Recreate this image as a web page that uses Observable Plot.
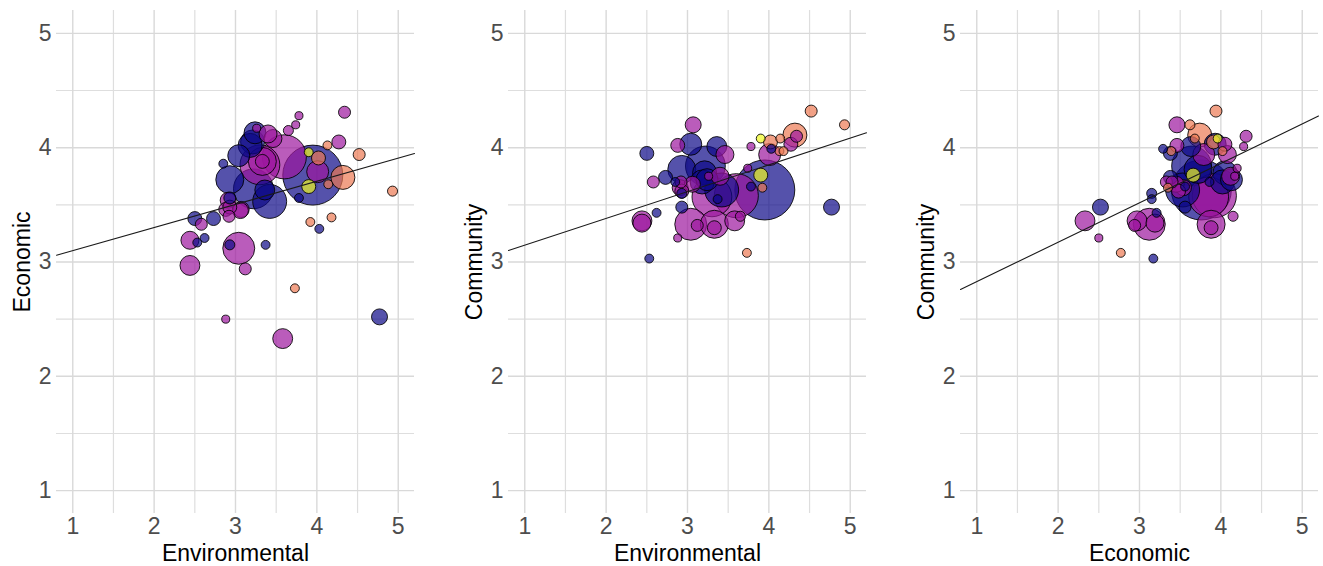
<!DOCTYPE html>
<html>
<head>
<meta charset="utf-8">
<script src="https://cdn.jsdelivr.net/npm/d3@7"></script>
<script src="https://cdn.jsdelivr.net/npm/@observablehq/plot@0.6"></script>
<style>
  body { margin: 0; background: #ffffff; }
  #wrap { position: relative; width: 1323px; height: 566px; overflow: hidden; background: #fff; }
  #wrap > div { position: absolute; top: 0; width: 424px; height: 566px; }
  #wrap svg { max-width: none !important; }
</style>
</head>
<body>
<div id="wrap"></div>
<script>
// ---- Data (one entry per bubble; same item shown in all three panels) ----
const environmental = [4.52,4.93,4.32,4.02,4.14,4.13,4.18,3.92,3.73,
                       3.90,3.90,
                       3.95,4.77,2.53,2.62,2.50,2.73,3.37,2.93,2.85,3.78,4.03,2.93,2.93,3.04,3.36,3.42,3.22,3.21,3.24,3.18,
                       4.34,3.78,3.74,3.65,4.27,4.01,3.58,2.88,2.44,2.44,3.04,3.12,2.58,3.07,2.88,2.92,3.46,3.40,3.60,3.30,3.33,3.33,2.91,2.93,3.06,3.26];
const economic      = [3.94,3.62,3.74,3.91,3.68,4.02,3.39,3.35,2.77,
                       3.96,3.66,
                       3.76,2.52,3.17,3.21,3.38,3.38,3.15,3.15,3.86,3.56,3.29,3.56,3.72,3.93,3.63,3.53,3.64,4.05,4.13,4.02,
                       4.31,4.28,4.20,4.15,4.05,3.79,2.33,2.50,2.97,3.19,3.12,2.94,3.33,3.46,3.46,3.40,4.08,4.12,3.92,3.85,3.88,3.88,3.54,3.48,3.45,4.17];
const community     = [4.32,4.20,4.11,4.05,4.08,3.97,3.97,3.65,3.08,
                       4.08,3.76,
                       3.63,3.48,3.03,3.43,3.95,3.74,3.55,3.60,3.70,3.66,3.99,3.48,3.81,4.03,4.01,3.63,3.84,3.78,3.72,3.70,
                       4.10,4.01,3.82,3.40,4.03,3.94,3.36,3.21,3.36,3.34,3.33,3.32,3.70,4.20,4.02,3.70,3.94,3.75,3.58,3.57,3.33,3.30,3.65,3.62,3.68,3.75];
const bubbleSize    = [4,2.8,16,5.4,2.2,2.2,2.2,2.2,2.2,
                       2.2,5.4,
                       100,7.1,2.2,2.2,5.4,5.4,2.2,2.8,2.2,2.2,2.2,4,21.8,13.4,11,32,44,16,13.4,16,
                       4,1.8,1.8,2.8,5.4,13.4,11,1.8,11,9,28.4,4,4,7.1,5.4,4,9,9,54,44,21.8,5.4,7.1,5.4,7.1,1.8];
const group         = ["C","C","C","C","C","C","C","C","C",
                       "D","D",
                       "A","A","A","A","A","A","A","A","A","A","A","A","A","A","A","A","A","A","A","A",
                       "B","B","B","B","B","B","B","B","B","B","B","B","B","B","B","B","B","B","B","B","B","B","B","B","B","B"];

const groupDomain = ["A","B","C","D"];
const groupColors = ["#0D0887","#9C179E","#ED7953","#F0F921"];   // plasma(4)

const majorTicks = [1,2,3,4,5];
const minorTicks = [1.5,2.5,3.5,4.5];

// panels: x variable, y variable, linear fit (intercept, slope)
const panelX = ["Environmental","Environmental","Economic"];
const panelY = ["Economic","Community","Community"];
const fitIntercept = [2.898, 2.913, 2.483];
const fitSlope     = [0.202, 0.234, 0.345];

const axisDomain = [0.8, 5.2];

// ---- Build table ----
const rows = environmental.map((e, i) => ({
  Environmental: e,
  Economic: economic[i],
  Community: community[i],
  size: bubbleSize[i],
  group: group[i]
})).sort((a, b) => d3.descending(a.size, b.size));

const wrap = document.getElementById("wrap");
const panelLeft = [0, 452, 904];

panelX.forEach((xName, p) => {
  const yName = panelY[p];
  const fit = axisDomain.map(v => ({x: v, y: fitIntercept[p] + fitSlope[p] * v}));
  const chart = Plot.plot({
    width: 424,
    height: 566,
    marginLeft: 56,
    marginRight: 10,
    marginTop: 10,
    marginBottom: 53,
    style: {fontFamily: "'Liberation Sans', Arial, sans-serif", fontSize: "23px", color: "#4d4d4d", background: "white", overflow: "visible"},
    x: {domain: axisDomain},
    y: {domain: axisDomain},
    r: {type: "sqrt", domain: [0, 100], range: [0, 30]},
    color: {domain: groupDomain, range: groupColors},
    marks: [
      Plot.gridX(minorTicks, {stroke: "#dedede", strokeOpacity: 1, strokeWidth: 1.2}),
      Plot.gridY(minorTicks, {stroke: "#dedede", strokeOpacity: 1, strokeWidth: 1.2}),
      Plot.gridX(majorTicks, {stroke: "#d9d9d9", strokeOpacity: 1, strokeWidth: 1.4}),
      Plot.gridY(majorTicks, {stroke: "#d9d9d9", strokeOpacity: 1, strokeWidth: 1.4}),
      Plot.axisX(majorTicks, {tickSize: 0, tickPadding: 4, tickFormat: "d", label: xName, labelAnchor: "center", labelArrow: "none", labelOffset: 47, fill: "#4d4d4d", fontSize: 23}),
      Plot.axisY(majorTicks, {tickSize: 0, tickPadding: 5, tickFormat: "d", label: yName, labelAnchor: "center", labelArrow: "none", labelOffset: 43, fill: "#4d4d4d", fontSize: 23}),
      Plot.dot(rows, {x: xName, y: yName, r: "size", fill: "group", fillOpacity: 0.7, stroke: "black", strokeOpacity: 0.85, strokeWidth: 1}),
      Plot.line(fit, {x: "x", y: "y", stroke: "#1a1a1a", strokeWidth: 1.1})
    ]
  });
  d3.select(chart).selectAll('[aria-label$="axis label"]').attr("fill", "black");
  const holder = document.createElement("div");
  holder.style.left = panelLeft[p] + "px";
  holder.appendChild(chart);
  wrap.appendChild(holder);
});
</script>
</body>
</html>
